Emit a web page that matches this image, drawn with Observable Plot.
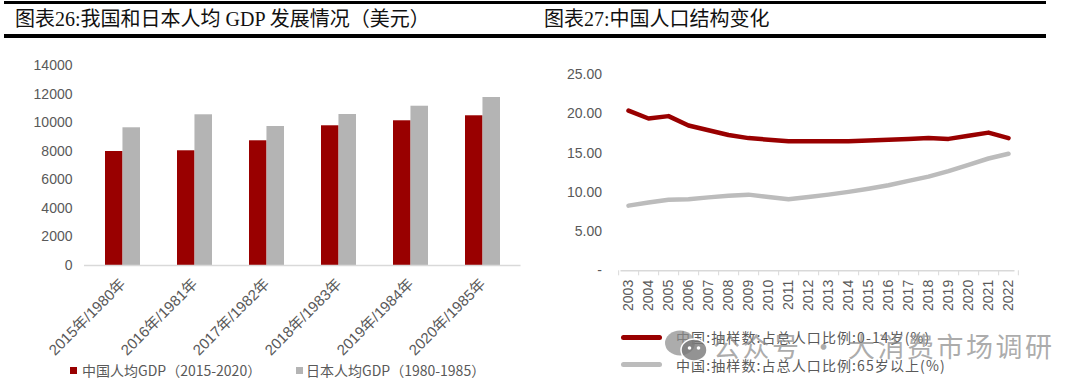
<!DOCTYPE html>
<html><head><meta charset="utf-8">
<script src="https://cdn.jsdelivr.net/npm/d3@7"></script>
<script src="https://cdn.jsdelivr.net/npm/@observablehq/plot@0.6"></script>
<style>
body{margin:0;background:#fff;}
#page{position:relative;width:1080px;height:390px;overflow:hidden;background:#fff;font-family:"Noto Sans CJK SC",sans-serif;}
.bar{position:absolute;background:#000;}
.title{position:absolute;font-family:"Liberation Serif","Noto Sans CJK SC",serif;font-size:20px;line-height:24px;color:#111;white-space:nowrap;}
.leg{position:absolute;font-family:"Noto Sans CJK SC",sans-serif;font-size:14px;line-height:18px;color:#595959;white-space:nowrap;}
.sw{position:absolute;}
#wm{position:absolute;left:713px;top:328px;font-family:"Noto Sans CJK SC",sans-serif;font-size:27px;line-height:36px;letter-spacing:2.5px;color:rgba(140,140,140,0.72);white-space:nowrap;}
#leftChart g[aria-label^="x-axis"] text{font-size:15px;}
</style></head>
<body>
<div id="page">
  <div class="bar" style="left:4px;top:1px;width:1042px;height:3px"></div>
  <div class="bar" style="left:4px;top:34px;width:1042px;height:4px"></div>
  <div class="title" style="left:15px;top:7px">图表26:我国和日本人均 GDP 发展情况（美元）</div>
  <div class="title" style="left:544px;top:7px">图表27:中国人口结构变化</div>
  <div id="leftChart" style="position:absolute;left:0;top:40px"></div>
  <div id="rightChart" style="position:absolute;left:540px;top:40px"></div>
  <div class="sw" style="left:70px;top:367px;width:7px;height:7px;background:#990000"></div>
  <div class="leg" id="legL1" style="left:82px;top:361px"></div>
  <div class="sw" style="left:296px;top:367px;width:7px;height:7px;background:#b4b4b4"></div>
  <div class="leg" id="legL2" style="left:306px;top:361px"></div>
  <div class="sw" style="left:621px;top:335px;width:41px;height:5px;border-radius:2.5px;background:#990000"></div>
  <div class="leg" id="legR1" style="left:676px;top:328px;letter-spacing:1.1px"></div>
  <div class="sw" style="left:621px;top:362px;width:41px;height:5px;border-radius:2.5px;background:#bcbcbc"></div>
  <div class="leg" id="legR2" style="left:676px;top:356px;letter-spacing:1.1px"></div>
  <svg style="position:absolute;left:662px;top:328px" width="50" height="36">
    <ellipse cx="18" cy="15" rx="15" ry="12.5" fill="rgba(140,140,140,0.72)"/>
    <ellipse cx="32" cy="22" rx="13" ry="11" fill="rgba(120,120,120,0.8)" stroke="#fff" stroke-width="1.5"/>
    <circle cx="27.5" cy="20" r="1.8" fill="#fff"/><circle cx="36.5" cy="20" r="1.8" fill="#fff"/>
  </svg>
  <div id="wm">公众号 · 大消费市场调研</div>
</div>
<script>
// ---- Chart 26 data ----
const gdpCategories = ["2015年/1980年", "2016年/1981年", "2017年/1982年", "2018年/1983年", "2019年/1984年", "2020年/1985年"];
const chinaGDP = [7980, 8030, 8730, 9780, 10130, 10480];
const japanGDP = [9640, 10550, 9730, 10570, 11150, 11760];
const gdpTicks = [0, 2000, 4000, 6000, 8000, 10000, 12000, 14000];
const gdpSeriesNames = ["中国人均GDP（2015-2020）", "日本人均GDP（1980-1985）"];

// ---- Chart 27 data ----
const years = ["2003","2004","2005","2006","2007","2008","2009","2010","2011","2012","2013","2014","2015","2016","2017","2018","2019","2020","2021","2022"];
const share0to14 = [20.4, 19.4, 19.7, 18.5, 17.9, 17.3, 16.9, 16.7, 16.5, 16.5, 16.5, 16.5, 16.6, 16.7, 16.8, 16.9, 16.8, 17.2, 17.6, 16.9];
const share65plus = [8.3, 8.7, 9.05, 9.1, 9.35, 9.55, 9.7, 9.4, 9.1, 9.4, 9.7, 10.05, 10.45, 10.9, 11.45, 12.0, 12.7, 13.5, 14.3, 14.9];
const popTicks = [0, 5, 10, 15, 20, 25];
const popSeriesNames = ["中国:抽样数:占总人口比例:0-14岁(%)", "中国:抽样数:占总人口比例:65岁以上(%)"];

const RED = "#990000", GRAY_BAR = "#b4b4b4", GRAY_LINE = "#bcbcbc", AXIS = "#d9d9d9", TXT = "#595959";
const numFont = "'Liberation Sans', Arial, 'Noto Sans CJK SC', sans-serif";

// ---- Left chart ----
const gdpRows = gdpCategories.map((c, i) => ({cat: c, china: chinaGDP[i], japan: japanGDP[i]}));
const LW = 540, LH = 320, LML = 84, LMR = 19.5;
const pin = 0.52;
const lStep = (LW - LML - LMR) / gdpCategories.length;
const half = lStep * (1 - pin) / 2;
const left = Plot.plot({
  width: LW, height: LH, marginLeft: LML, marginRight: LMR, marginTop: 25, marginBottom: 95,
  style: {background: "transparent", fontSize: "14px", fontFamily: numFont, color: TXT, overflow: "visible"},
  x: {domain: gdpCategories, paddingInner: pin, paddingOuter: pin / 2, tickSize: 0, tickPadding: 16, tickRotate: -45, label: null},
  y: {domain: [0, 14000], ticks: gdpTicks, tickSize: 0, tickPadding: 12, tickFormat: d3.format("d"), label: null},
  marks: [
    Plot.barY(gdpRows, {x: "cat", y: "china", fill: RED, insetRight: half}),
    Plot.barY(gdpRows, {x: "cat", y: "japan", fill: GRAY_BAR, insetLeft: half}),
    Plot.ruleY([0], {stroke: AXIS, strokeWidth: 1.5})
  ]
});
document.getElementById("leftChart").appendChild(left);
document.getElementById("legL1").textContent = gdpSeriesNames[0];
document.getElementById("legL2").textContent = gdpSeriesNames[1];

// ---- Right chart ----
const popRows = years.map((y, i) => ({year: y, young: share0to14[i], old: share65plus[i]}));
const RW = 540, RH = 285, RML = 80.5, RMR = 65.5;
const rStep = (RW - RML - RMR) / years.length;
const right = Plot.plot({
  width: RW, height: RH, marginLeft: RML, marginRight: RMR, marginTop: 34, marginBottom: 54.7,
  style: {background: "transparent", fontSize: "14px", fontFamily: numFont, color: TXT, overflow: "visible"},
  x: {domain: years, padding: 0, tickSize: 0, tickPadding: 9, tickRotate: -90, label: null},
  y: {domain: [0, 25], ticks: popTicks, tickSize: 0, tickPadding: 19, tickFormat: d => d === 0 ? "-" : d.toFixed(2), label: null},
  marks: [
    Plot.ruleY([0], {stroke: AXIS, strokeWidth: 1.5}),
    Plot.ruleX(popRows, {x: "year", y1: 0, y2: 0, insetBottom: -5, stroke: AXIS, dx: -rStep / 2}),
    Plot.ruleX(popRows.slice(-1), {x: "year", y1: 0, y2: 0, insetBottom: -5, stroke: AXIS, dx: rStep / 2}),
    Plot.line(popRows, {x: "year", y: "old", stroke: GRAY_LINE, strokeWidth: 4.5}),
    Plot.line(popRows, {x: "year", y: "young", stroke: RED, strokeWidth: 4.5})
  ]
});
document.getElementById("rightChart").appendChild(right);
document.getElementById("legR1").textContent = popSeriesNames[0];
document.getElementById("legR2").textContent = popSeriesNames[1];
</script>
</body></html>
